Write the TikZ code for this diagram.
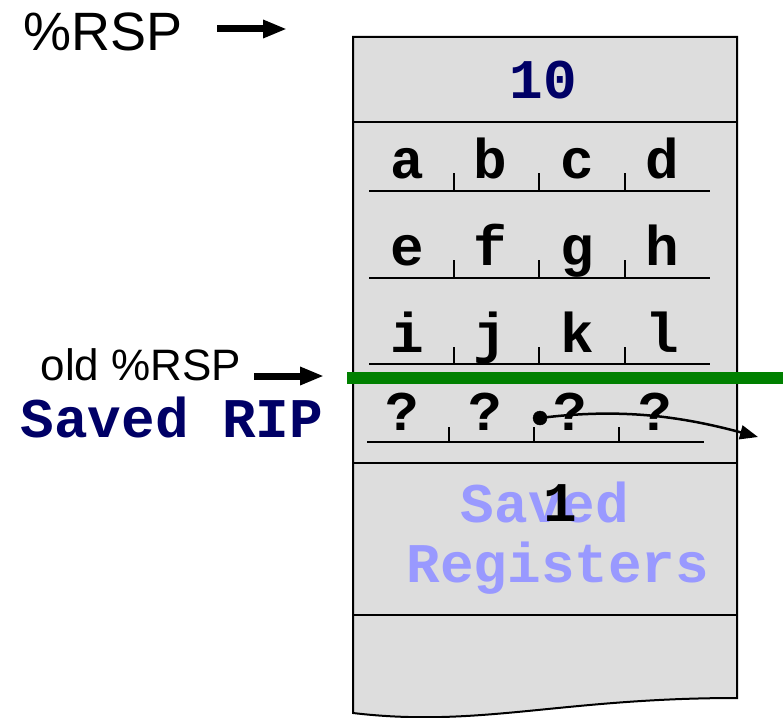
\documentclass[tikz,border=0pt]{standalone}
\usepackage{fontspec}
\setmainfont{Liberation Sans}
\setmonofont{Liberation Mono}
\usetikzlibrary{arrows.meta}
\definecolor{navytext}{RGB}{0,0,102}
\definecolor{regblue}{RGB}{153,153,255}
\definecolor{stackgray}{RGB}{221,221,221}
\definecolor{rspgreen}{RGB}{0,128,0}

\begin{document}
\begin{tikzpicture}[x=1pt,y=-1pt,
    cell/.style={inner sep=0pt,anchor=base,font=\ttfamily\bfseries\fontsize{56}{56}\selectfont},
    reg/.style={inner sep=0pt,anchor=base,font=\fontsize{#1}{#1}\selectfont},
    fatarrow/.style={line width=7pt,-{Triangle[length=24pt,width=17pt]}},
    rowline/.style={line width=2pt}]
        \useasboundingbox (0,0) rectangle (783,717);

        % the stack
        \filldraw[fill=stackgray,line width=2pt] (353,37) -- (737,37) -- (737,698)
            .. controls (560,698) and (480,728) .. (353,713) -- cycle;
        \draw[line width=2pt] (353,122) -- (737,122);
        \draw[line width=2pt] (353,463) -- (737,463);
        \draw[line width=2pt] (353,615) -- (737,615);

        \node[cell,navytext] (ten) at (543,98) {10};

        \node[cell] (a) at (407,178) {a};
        \node[cell] (b) at (490,178) {b};
        \node[cell] (c) at (577,178) {c};
        \node[cell] (d) at (662,178) {d};
        \draw[rowline] (369,191) -- (710,191)
            (454,173) -- (454,191) (539,173) -- (539,191) (625,173) -- (625,191);

        \node[cell] (e) at (407,265) {e};
        \node[cell] (f) at (490,265) {f};
        \node[cell] (g) at (577,265) {g};
        \node[cell] (h) at (662,265) {h};
        \draw[rowline] (369,278) -- (710,278)
            (454,260) -- (454,278) (539,260) -- (539,278) (625,260) -- (625,278);

        \node[cell] (i) at (407,352) {i};
        \node[cell] (j) at (490,352) {j};
        \node[cell] (k) at (577,352) {k};
        \node[cell] (l) at (662,352) {l};
        \draw[rowline] (369,364) -- (710,364)
            (454,347) -- (454,364) (539,347) -- (539,364) (625,347) -- (625,364);

        \node[cell] (q1) at (402,430) {?};
        \node[cell] (q2) at (485,430) {?};
        \node[cell] (q3) at (570,430) {?};
        \node[cell] (q4) at (655,430) {?};
        \draw[rowline] (367,442) -- (704,442)
            (449,427) -- (449,442) (534,427) -- (534,442) (619,427) -- (619,442);

        \node[cell,regblue] (saved) at (545,522) {Saved};
        \node[cell,regblue] (registers) at (558,582) {Registers};
        \node[cell] (one) at (560,521) {1};

        % stack pointers
        \draw[line width=12pt,rspgreen] (347,378) -- (783,378);

        \node[reg=54] (rsp) at (103,51) {\%RSP};
        \coordinate (rsptail) at (217,29);
        \coordinate (rsptip) at (287,29);
        \draw[fatarrow] (rsptail) -- (rsptip);

        \node[reg=44] (oldrsp) at (141,380) {old \%RSP};
        \coordinate (oldtail) at (254,376);
        \coordinate (oldtip) at (324,376);
        \draw[fatarrow] (oldtail) -- (oldtip);

        \node[cell,navytext] (rip) at (172,437) {Saved RIP};

        \coordinate (P) at (540,418);
        \coordinate (out) at (758,437);
        \filldraw (P) circle[radius=7pt];
        \draw[line width=2.5pt,-{Triangle[length=18pt,width=14pt]}] (P) .. controls (620,408) and (680,416) .. (out);

    \end{tikzpicture}
\end{document}
